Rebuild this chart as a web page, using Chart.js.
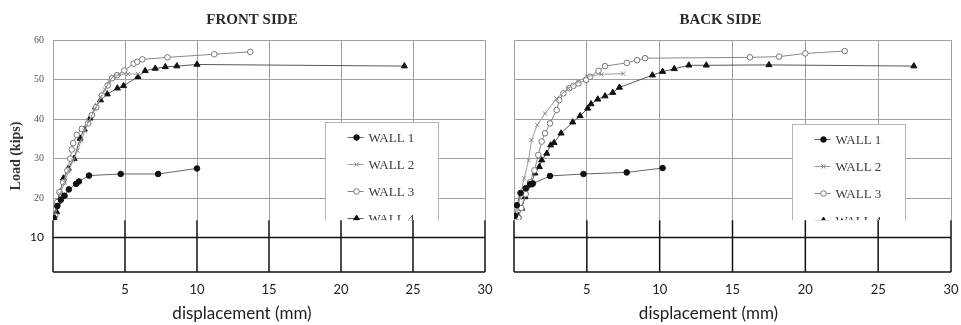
<!DOCTYPE html>
<html><head><meta charset="utf-8">
<script src="https://cdn.jsdelivr.net/npm/chart.js@4/dist/chart.umd.min.js"></script>
<style>
html,body{margin:0;padding:0;background:#fff;}
#wrap{position:relative;width:961px;height:325px;overflow:hidden;background:#fff}
.c{position:absolute;top:0;height:325px}
#front{left:0;width:495px}
#back{left:495px;width:466px}
</style></head><body>
<div id="wrap"><div class="c" id="front"><canvas id="cf"></canvas></div><div class="c" id="back"><canvas id="cb"></canvas></div></div>
<script>
// ---- data ----
const xTicks = [0, 5, 10, 15, 20, 25, 30];
const yTicks = [10, 20, 30, 40, 50, 60];
const wallNames = ['WALL 1', 'WALL 2', 'WALL 3', 'WALL 4'];
const panelTitles = ['FRONT SIDE', 'BACK SIDE'];
const xAxisTitle = 'displacement (mm)';
const yAxisTitle = 'Load (kips)';

const frontWall1 = [[0.05,15],[0.3,18],[0.55,19.6],[0.8,20.6],[1.1,22.2],[1.6,23.6],[1.8,24.2],[2.5,25.7],[4.7,26.1],[7.3,26.1],[10.0,27.5]];
const frontWall2 = [[0.05,14.5],[0.3,18],[0.5,21],[0.8,24],[1.1,27],[1.4,29.5],[1.7,32],[1.95,34.5],[2.2,37],[2.5,39.5],[2.9,42.5],[3.3,45.5],[3.6,47.5],[3.9,49.5],[4.2,50.8],[4.6,51.3],[5.2,51.4],[5.9,51.4]];
const frontWall3 = [[0.15,15.5],[0.3,19],[0.45,21.5],[0.7,24],[1.0,27],[1.2,30],[1.3,32.3],[1.4,33.9],[1.65,36],[2.0,37.5],[2.45,38.9],[2.7,41],[3.0,43],[3.4,46],[3.8,48.5],[4.1,50.3],[4.45,51.1],[4.95,52.3],[5.6,54],[5.85,54.5],[6.2,55.1],[7.95,55.6],[11.2,56.4],[13.7,57.0]];
const frontWall4 = [[0.05,15],[0.25,16.5],[0.35,19],[0.5,21.5],[0.72,25],[1.06,27.5],[1.46,30],[1.88,35.1],[2.17,37.4],[2.57,40.2],[2.96,43],[3.3,44.8],[3.77,46.3],[4.47,47.8],[4.9,48.4],[5.9,50.7],[6.4,52.2],[7.1,52.8],[7.8,53.2],[8.6,53.4],[10.0,53.8],[24.4,53.4]];

const backWall1 = [[0.05,15.5],[0.2,18.2],[0.45,21.3],[0.8,22.5],[1.1,23.5],[1.3,23.7],[2.47,25.6],[4.77,26.1],[7.74,26.5],[10.2,27.6]];
const backWall2 = [[0.15,15],[0.4,20],[0.7,25],[1.0,29.6],[1.2,34.7],[1.6,38.5],[2.13,41.4],[2.93,45.2],[3.73,47.8],[4.4,49.5],[5.0,50.8],[6.0,51.3],[7.5,51.5]];
const backWall3 = [[0.3,15],[0.5,17.5],[0.8,21],[1.1,24],[1.4,27],[1.67,30.9],[1.9,34.3],[2.13,36.4],[2.47,38.9],[2.93,42.3],[3.11,44.8],[3.39,46.5],[3.8,47.8],[4.08,48.4],[4.42,49],[4.95,49.9],[5.22,50.7],[5.8,52.2],[6.25,53.4],[7.74,54.2],[8.45,54.9],[9.0,55.4],[16.2,55.6],[18.2,55.8],[20.0,56.6],[22.7,57.2]];
const backWall4 = [[0.3,15.5],[0.53,17.4],[0.76,20.3],[1.15,23.3],[1.44,26.3],[1.74,27.9],[1.9,29.6],[2.25,31.3],[2.52,33.4],[2.75,34],[3.23,36.4],[4.03,39.2],[4.54,40.8],[5.06,42.7],[5.29,43.8],[5.75,45],[6.25,45.8],[6.78,46.7],[7.24,48],[9.5,51.1],[10.2,52],[11.0,52.7],[12.0,53.6],[13.2,53.6],[17.5,53.7],[27.45,53.4]];

// ---- styles ----
const GRID = '#a0a0a0';
const wallStyles = [
  {borderColor:'#666', pointStyle:'circle', pointRadius:2.8, pointBackgroundColor:'#111', pointBorderColor:'#111', pointBorderWidth:1},
  {borderColor:'#9a9a9a', pointStyle:'crossRot', pointRadius:3, pointBackgroundColor:'#888', pointBorderColor:'#888', pointBorderWidth:1},
  {borderColor:'#888', pointStyle:'circle', pointRadius:2.8, pointBackgroundColor:'#fff', pointBorderColor:'#777', pointBorderWidth:1},
  {borderColor:'#555', pointStyle:'triangle', pointRadius:3.5, pointBackgroundColor:'#111', pointBorderColor:'#111', pointBorderWidth:1}
];

function toXY(arr){ return arr.map(p => ({x:p[0], y:p[1]})); }

function drawMarker(ctx, st, x, y){
  ctx.save();
  ctx.fillStyle = st.pointBackgroundColor;
  ctx.strokeStyle = st.pointBorderColor;
  ctx.lineWidth = st.pointBorderWidth;
  if (Chart.helpers && Chart.helpers.drawPoint) {
    Chart.helpers.drawPoint(ctx, {pointStyle: st.pointStyle, radius: st.pointRadius, rotation: 0, borderWidth: st.pointBorderWidth}, x, y);
  } else {
    ctx.beginPath(); ctx.arc(x, y, st.pointRadius, 0, Math.PI*2); ctx.fill(); ctx.stroke();
  }
  ctx.restore();
}

function makeChart(canvasId, idx, series, o){
  const decor = {
    id: 'decor' + idx,
    afterDatasetsDraw(chart){
      const {ctx, chartArea:a, scales:{x, y}} = chart;
      const yc = y.getPixelForValue(14.4);
      // legend box
      const lx = Math.round(x.getPixelForValue(o.legendX)) + 0.5;
      const ly = Math.round(a.top + o.legendTop) + 0.5;
      ctx.save();
      ctx.fillStyle = '#fff';
      ctx.strokeStyle = '#b5b5b5';
      ctx.lineWidth = 1;
      ctx.fillRect(lx, ly, 113, yc - ly + 5);
      ctx.strokeRect(lx, ly, 113, yc - ly + 5);
      wallNames.forEach((name, i) => {
        const cy = ly + 15 + i * 27;
        const st = wallStyles[i];
        ctx.strokeStyle = st.borderColor;
        ctx.lineWidth = 1;
        ctx.beginPath(); ctx.moveTo(lx + 22, cy); ctx.lineTo(lx + 38, cy); ctx.stroke();
        drawMarker(ctx, st, lx + 31, cy);
        ctx.fillStyle = '#3a3a3a';
        ctx.font = '13px "Liberation Serif", "Times New Roman", serif';
        ctx.textAlign = 'left';
        ctx.textBaseline = 'middle';
        ctx.fillText(name, lx + 43, cy + 1);
      });
      // lower extension panel with black frame
      ctx.fillStyle = '#fff';
      ctx.fillRect(a.left - 1, yc, a.width + 2, a.bottom - yc + 1);
      ctx.strokeStyle = '#111';
      ctx.lineWidth = 1.5;
      xTicks.forEach(v => {
        const px = x.getPixelForValue(v);
        ctx.beginPath(); ctx.moveTo(px, yc); ctx.lineTo(px, a.bottom); ctx.stroke();
      });
      const y10 = y.getPixelForValue(10);
      ctx.beginPath(); ctx.moveTo(a.left, y10); ctx.lineTo(a.right, y10); ctx.stroke();
      ctx.beginPath(); ctx.moveTo(a.left, a.bottom); ctx.lineTo(a.right, a.bottom); ctx.stroke();
      ctx.restore();
    },
    afterDraw(chart){
      const {ctx, chartArea:a} = chart;
      const cx = (a.left + a.right) / 2;
      ctx.save();
      ctx.fillStyle = '#2a2a2a';
      ctx.textAlign = 'center';
      ctx.textBaseline = 'middle';
      ctx.font = 'bold 15px "Liberation Serif", "Times New Roman", serif';
      ctx.fillText(panelTitles[idx], cx + o.titleDx, 20);
      ctx.fillStyle = '#1e1e1e';
      ctx.font = '17px Lato, "Open Sans", sans-serif';
      ctx.fillText(xAxisTitle, cx + o.xTitleDx, 314);
      ctx.restore();
    }
  };

  return new Chart(document.getElementById(canvasId), {
    type: 'scatter',
    data: {
      datasets: series.map((s, i) => Object.assign({
        label: wallNames[i],
        data: toXY(s),
        showLine: true,
        borderWidth: 1,
        tension: 0,
        fill: false
      }, wallStyles[i]))
    },
    options: {
      responsive: true,
      maintainAspectRatio: false,
      animation: false,
      events: [],
      layout: {padding: {top: 40, right: 10, left: 0, bottom: 0}},
      plugins: {legend: {display: false}, tooltip: {enabled: false}, title: {display: false}},
      scales: {
        x: {
          type: 'linear', min: 0, max: 30,
          afterBuildTicks: s => { s.ticks = xTicks.map(v => ({value: v})); },
          afterFit: s => { s.height = 53; s.paddingRight = 0; s.paddingLeft = 0; },
          ticks: {
            autoSkip: false, maxRotation: 0, padding: 10,
            callback: v => v === 0 ? '' : String(v),
            font: {family: 'Lato, "Open Sans", sans-serif', size: 13},
            color: '#222'
          },
          grid: {color: GRID, lineWidth: 1, drawTicks: false},
          border: {color: '#111', width: 1.5}
        },
        y: {
          type: 'linear', min: 1.3, max: 60,
          afterBuildTicks: s => { s.ticks = yTicks.map(v => ({value: v})); },
          afterFit: s => { s.width = o.yWidth; s.paddingTop = 0; s.paddingBottom = 0; },
          ticks: {
            display: o.showY, padding: 9,
            font: c => (c.tick && c.tick.value === 10) ? {family: 'Lato, "Open Sans", sans-serif', size: 12} : {family: '"Liberation Serif", serif', size: 10},
            color: c => (c.tick && c.tick.value === 10) ? '#111' : '#555'
          },
          grid: {color: GRID, lineWidth: 1, drawTicks: false},
          border: {color: GRID, width: 1},
          title: {
            display: o.showY, text: yAxisTitle, color: '#333',
            font: {family: '"Liberation Serif", serif', size: 14, weight: 'bold'},
            padding: {top: 8, bottom: 0}
          }
        }
      }
    },
    plugins: [decor]
  });
}

makeChart('cf', 0, [frontWall1, frontWall2, frontWall3, frontWall4],
  {showY: true, yWidth: 53, legendX: 18.9, legendTop: 82, titleDx: -17, xTitleDx: -27});
makeChart('cb', 1, [backWall1, backWall2, backWall3, backWall4],
  {showY: false, yWidth: 19, legendX: 19.1, legendTop: 84, titleDx: -12, xTitleDx: -24});
</script>
</body></html>
